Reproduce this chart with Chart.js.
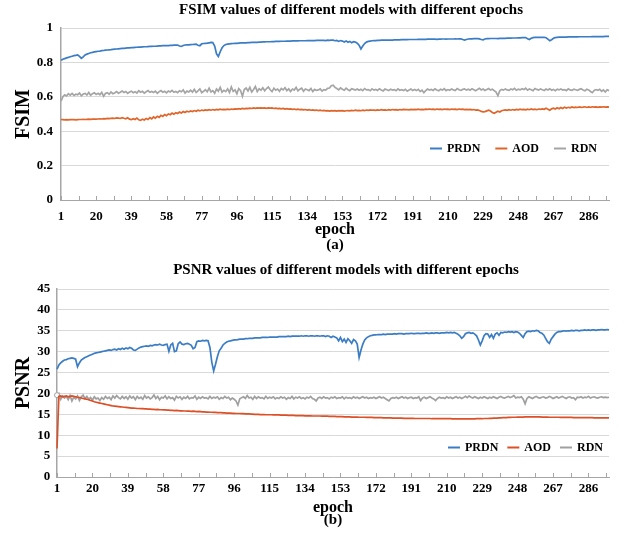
<!DOCTYPE html>
<html>
<head>
<meta charset="utf-8">
<script src="https://cdn.jsdelivr.net/npm/chart.js@4/dist/chart.umd.min.js"></script>
<style>
  html, body { margin: 0; padding: 0; background: #ffffff; }
  .box { position: relative; width: 626px; }
  canvas { display: block; }
</style>
</head>
<body>
<div class="box"><canvas id="fsim" width="626" height="258"></canvas></div>
<div class="box"><canvas id="psnr" width="626" height="277"></canvas></div>
<script>
// ---------- categories ----------
const epochs = Array.from({length: 297}, (_, i) => i + 1);
const tickLabels = [1, 20, 39, 58, 77, 96, 115, 134, 153, 172, 191, 210, 229, 248, 267, 286];
const seriesNames = ['PRDN', 'AOD', 'RDN'];
const fsimTicks = [0, 0.2, 0.4, 0.6, 0.8, 1];
const psnrTicks = [0, 5, 10, 15, 20, 25, 30, 35, 40, 45];

// ---------- FSIM (a) ----------
const fsimPRDN = [
0.812,0.818,0.822,0.826,0.829,0.833,0.836,0.839,0.841,0.843,
0.835,0.824,0.832,0.843,0.848,0.852,0.856,0.858,0.861,0.863,
0.865,0.866,0.868,0.869,0.871,0.872,0.873,0.874,0.876,0.877,
0.878,0.879,0.880,0.881,0.882,0.883,0.884,0.885,0.886,0.886,
0.887,0.888,0.889,0.889,0.890,0.891,0.891,0.892,0.893,0.893,
0.894,0.894,0.895,0.896,0.896,0.897,0.897,0.898,0.898,0.899,
0.899,0.900,0.900,0.901,0.895,0.893,0.898,0.901,0.902,0.902,
0.903,0.904,0.905,0.906,0.900,0.897,0.908,0.910,0.911,0.912,
0.914,0.916,0.915,0.895,0.850,0.835,0.862,0.885,0.898,0.904,
0.906,0.908,0.909,0.910,0.911,0.911,0.912,0.913,0.913,0.914,
0.914,0.915,0.915,0.916,0.916,0.917,0.917,0.918,0.918,0.919,
0.919,0.920,0.920,0.920,0.921,0.921,0.922,0.922,0.922,0.923,
0.923,0.923,0.924,0.924,0.924,0.925,0.925,0.925,0.925,0.926,
0.926,0.926,0.926,0.927,0.927,0.927,0.927,0.927,0.928,0.928,
0.928,0.928,0.928,0.927,0.929,0.928,0.929,0.929,0.926,0.928,
0.922,0.927,0.924,0.919,0.925,0.917,0.922,0.914,0.920,0.918,
0.912,0.900,0.878,0.895,0.910,0.918,0.922,0.924,0.926,0.927,
0.927,0.928,0.928,0.929,0.929,0.929,0.930,0.930,0.930,0.930,
0.931,0.931,0.931,0.931,0.932,0.932,0.932,0.932,0.933,0.933,
0.933,0.933,0.933,0.934,0.934,0.934,0.934,0.934,0.935,0.935,
0.935,0.935,0.935,0.934,0.935,0.935,0.936,0.936,0.935,0.936,
0.936,0.936,0.936,0.937,0.936,0.937,0.937,0.933,0.930,0.933,
0.936,0.937,0.937,0.938,0.938,0.938,0.937,0.933,0.931,0.936,
0.938,0.938,0.939,0.939,0.939,0.939,0.938,0.940,0.940,0.940,
0.940,0.941,0.941,0.941,0.942,0.942,0.942,0.943,0.943,0.944,
0.944,0.944,0.938,0.933,0.940,0.944,0.945,0.945,0.946,0.946,
0.946,0.946,0.943,0.935,0.926,0.932,0.940,0.944,0.946,0.947,
0.947,0.947,0.947,0.947,0.948,0.948,0.948,0.948,0.948,0.948,
0.949,0.949,0.949,0.949,0.949,0.949,0.949,0.950,0.950,0.950,
0.950,0.950,0.950,0.950,0.951,0.951,0.951];

const fsimAOD = [
0.468,0.467,0.466,0.467,0.466,0.467,0.468,0.467,0.466,0.467,
0.468,0.468,0.469,0.468,0.469,0.470,0.469,0.470,0.471,0.470,
0.471,0.472,0.471,0.473,0.472,0.474,0.473,0.475,0.476,0.474,
0.477,0.476,0.474,0.479,0.475,0.472,0.478,0.470,0.467,0.473,
0.468,0.476,0.466,0.463,0.470,0.465,0.474,0.468,0.479,0.472,
0.483,0.476,0.487,0.480,0.492,0.486,0.497,0.490,0.500,0.496,
0.505,0.499,0.508,0.503,0.511,0.506,0.514,0.509,0.516,0.512,
0.518,0.514,0.520,0.516,0.522,0.518,0.523,0.520,0.524,0.521,
0.525,0.522,0.526,0.523,0.527,0.524,0.528,0.525,0.527,0.526,
0.528,0.526,0.529,0.527,0.530,0.528,0.531,0.529,0.532,0.530,
0.533,0.531,0.534,0.532,0.535,0.533,0.535,0.534,0.536,0.534,
0.535,0.533,0.536,0.534,0.535,0.532,0.534,0.531,0.533,0.530,
0.532,0.529,0.531,0.528,0.530,0.527,0.529,0.526,0.528,0.525,
0.527,0.524,0.526,0.523,0.525,0.522,0.524,0.521,0.523,0.520,
0.522,0.519,0.521,0.518,0.520,0.517,0.519,0.518,0.520,0.517,
0.519,0.518,0.520,0.517,0.519,0.520,0.518,0.521,0.519,0.522,
0.520,0.521,0.519,0.522,0.520,0.523,0.521,0.524,0.522,0.523,
0.521,0.524,0.522,0.525,0.523,0.524,0.522,0.525,0.523,0.526,
0.524,0.525,0.523,0.526,0.524,0.527,0.525,0.526,0.524,0.527,
0.525,0.527,0.526,0.528,0.525,0.527,0.526,0.528,0.527,0.529,
0.527,0.528,0.526,0.529,0.527,0.528,0.526,0.529,0.527,0.528,
0.526,0.529,0.527,0.528,0.526,0.529,0.527,0.528,0.526,0.527,
0.525,0.527,0.524,0.526,0.523,0.524,0.520,0.515,0.512,0.514,
0.518,0.522,0.517,0.508,0.504,0.510,0.516,0.512,0.519,0.522,
0.524,0.521,0.525,0.522,0.526,0.523,0.527,0.524,0.528,0.525,
0.527,0.524,0.528,0.525,0.529,0.526,0.528,0.525,0.529,0.527,
0.530,0.527,0.533,0.528,0.522,0.530,0.534,0.529,0.536,0.531,
0.538,0.532,0.540,0.535,0.539,0.536,0.541,0.537,0.540,0.538,
0.541,0.539,0.540,0.542,0.538,0.541,0.539,0.542,0.540,0.541,
0.539,0.541,0.540,0.542,0.540,0.541,0.540];

const fsimRDN = [
0.575,0.600,0.612,0.605,0.618,0.610,0.620,0.608,0.615,0.612,
0.622,0.606,0.616,0.620,0.611,0.625,0.609,0.618,0.623,0.614,
0.620,0.612,0.626,0.603,0.619,0.624,0.615,0.628,0.618,0.622,
0.630,0.621,0.627,0.634,0.625,0.631,0.620,0.628,0.633,0.624,
0.630,0.622,0.635,0.627,0.632,0.621,0.629,0.636,0.626,0.631,
0.625,0.633,0.620,0.630,0.636,0.627,0.632,0.623,0.634,0.628,
0.637,0.626,0.631,0.624,0.635,0.629,0.640,0.622,0.633,0.628,
0.638,0.627,0.643,0.625,0.635,0.646,0.624,0.632,0.641,0.629,
0.650,0.628,0.636,0.621,0.645,0.633,0.655,0.627,0.638,0.630,
0.646,0.625,0.657,0.631,0.640,0.618,0.648,0.636,0.603,0.642,
0.651,0.634,0.655,0.628,0.643,0.660,0.630,0.647,0.638,0.652,
0.635,0.648,0.657,0.641,0.630,0.650,0.638,0.645,0.632,0.648,
0.640,0.653,0.636,0.646,0.631,0.645,0.639,0.655,0.634,0.644,
0.650,0.632,0.645,0.641,0.636,0.648,0.630,0.643,0.637,0.640,
0.646,0.633,0.642,0.639,0.649,0.651,0.665,0.668,0.655,0.648,
0.640,0.652,0.644,0.638,0.650,0.641,0.636,0.647,0.643,0.639,
0.645,0.638,0.644,0.636,0.648,0.640,0.642,0.635,0.646,0.639,
0.643,0.637,0.647,0.640,0.634,0.645,0.641,0.636,0.644,0.639,
0.642,0.635,0.646,0.638,0.641,0.637,0.644,0.633,0.640,0.645,
0.637,0.642,0.636,0.643,0.631,0.638,0.624,0.636,0.645,0.639,
0.643,0.637,0.646,0.640,0.635,0.644,0.639,0.647,0.636,0.642,
0.638,0.645,0.640,0.636,0.648,0.641,0.637,0.643,0.646,0.639,
0.644,0.638,0.647,0.641,0.635,0.643,0.649,0.640,0.645,0.637,
0.642,0.648,0.639,0.644,0.636,0.627,0.606,0.635,0.643,0.639,
0.646,0.640,0.637,0.645,0.641,0.649,0.638,0.644,0.640,0.647,
0.642,0.650,0.638,0.645,0.641,0.636,0.648,0.643,0.639,0.646,
0.641,0.637,0.645,0.640,0.647,0.638,0.643,0.636,0.644,0.640,
0.645,0.639,0.642,0.636,0.646,0.640,0.637,0.644,0.641,0.638,
0.643,0.647,0.639,0.635,0.644,0.640,0.631,0.624,0.637,0.642,
0.638,0.644,0.632,0.640,0.628,0.641,0.636];

// ---------- PSNR (b) ----------
const psnrPRDN = [
25.8,26.8,27.3,27.7,28.0,28.1,28.3,28.4,28.5,28.4,
28.2,26.4,27.3,28.0,28.3,28.6,28.8,29.0,29.2,29.4,
29.6,29.7,29.8,29.9,30.0,30.1,30.2,30.3,30.4,30.3,
30.5,30.6,30.4,30.7,30.5,30.8,30.6,30.9,30.7,31.0,
30.8,30.4,30.3,30.6,30.9,31.1,31.2,31.3,31.4,31.3,
31.5,31.4,31.6,31.7,31.6,31.8,31.6,31.5,31.7,31.8,
30.1,31.6,32.0,30.0,30.2,31.9,32.3,31.8,31.7,31.9,
32.0,31.8,31.5,30.7,31.0,32.4,32.6,32.5,32.7,32.6,
32.7,32.6,31.0,27.5,25.4,27.0,28.8,30.2,30.8,31.6,
32.0,32.3,32.5,32.6,32.7,32.8,32.8,32.9,33.0,33.0,
33.0,33.1,33.1,33.2,33.2,33.2,33.3,33.3,33.3,33.3,
33.4,33.4,33.4,33.4,33.5,33.5,33.5,33.5,33.5,33.6,
33.6,33.6,33.6,33.6,33.7,33.6,33.7,33.7,33.7,33.7,
33.7,33.8,33.7,33.8,33.8,33.7,33.8,33.8,33.7,33.8,
33.8,33.7,33.8,33.8,33.6,33.8,33.7,33.4,33.7,33.5,
33.3,32.6,33.4,32.4,33.0,32.2,33.1,32.6,32.0,32.9,
32.6,31.8,28.6,30.4,31.8,32.8,33.3,33.6,33.8,33.9,
34.0,34.0,34.1,34.1,34.1,34.2,34.1,34.2,34.2,34.2,
34.2,34.3,34.2,34.3,34.3,34.3,34.2,34.3,34.3,34.3,
34.4,34.3,34.3,34.4,34.4,34.3,34.4,34.4,34.5,34.4,
34.4,34.5,34.4,34.5,34.5,34.4,34.5,34.5,34.5,34.6,
34.5,34.6,34.5,34.6,34.4,34.2,33.8,33.2,33.6,34.3,
34.5,34.6,34.4,34.5,34.2,33.8,32.8,31.6,32.6,33.8,
34.3,34.2,33.4,34.1,33.2,34.2,34.5,33.9,34.6,34.5,
34.7,34.6,34.8,34.7,34.8,34.6,34.8,34.7,34.4,33.9,
33.4,34.3,34.8,34.9,34.8,35.0,34.9,35.1,35.0,34.6,
34.4,34.0,33.2,32.4,32.0,33.0,33.6,34.2,34.6,34.8,
34.8,34.9,35.0,34.9,35.0,35.0,35.1,35.0,35.1,35.1,
35.0,35.1,35.1,35.2,35.1,35.2,35.1,35.2,35.2,35.1,
35.2,35.2,35.3,35.2,35.2,35.3,35.2];

const psnrAOD = [
6.8,19.3,19.4,19.2,19.3,19.4,19.2,19.3,19.4,19.3,
19.2,19.1,19.0,18.9,18.8,18.7,18.6,18.5,18.3,18.2,
18.0,17.9,17.8,17.7,17.6,17.5,17.4,17.3,17.2,17.1,
17.0,16.95,16.9,16.85,16.8,16.75,16.7,16.65,16.6,16.55,
16.5,16.5,16.45,16.4,16.4,16.35,16.35,16.3,16.3,16.25,
16.25,16.2,16.2,16.15,16.2,16.1,16.1,16.05,16.05,16.0,
16.0,15.95,15.95,15.9,15.95,15.9,15.85,15.85,15.8,15.8,
15.75,15.75,15.7,15.75,15.7,15.65,15.7,15.65,15.6,15.6,
15.55,15.55,15.5,15.5,15.45,15.45,15.4,15.4,15.4,15.35,
15.35,15.3,15.3,15.3,15.25,15.25,15.2,15.2,15.2,15.15,
15.15,15.1,15.1,15.1,15.05,15.05,15.0,15.0,15.0,14.95,
14.95,14.95,14.9,14.9,14.9,14.9,14.85,14.85,14.85,14.85,
14.8,14.8,14.8,14.8,14.75,14.75,14.75,14.75,14.7,14.7,
14.7,14.7,14.7,14.65,14.65,14.65,14.65,14.6,14.6,14.6,
14.6,14.6,14.55,14.55,14.55,14.55,14.5,14.5,14.5,14.5,
14.45,14.45,14.45,14.45,14.4,14.4,14.4,14.4,14.35,14.35,
14.35,14.35,14.3,14.3,14.3,14.3,14.25,14.25,14.25,14.25,
14.2,14.2,14.2,14.2,14.2,14.15,14.15,14.15,14.15,14.15,
14.1,14.1,14.1,14.1,14.1,14.1,14.05,14.05,14.05,14.05,
14.05,14.05,14.0,14.0,14.0,14.0,14.0,14.0,14.0,14.0,
14.0,13.95,13.95,13.95,13.95,13.95,13.95,13.95,13.95,13.95,
13.95,13.95,13.9,13.9,13.9,13.9,13.9,13.9,13.9,13.9,
13.9,13.9,13.9,13.9,13.9,13.95,13.95,13.95,13.95,14.0,
14.0,14.0,14.05,14.05,14.1,14.1,14.1,14.15,14.15,14.2,
14.2,14.2,14.25,14.25,14.3,14.3,14.3,14.35,14.35,14.35,
14.35,14.4,14.4,14.4,14.4,14.4,14.4,14.4,14.4,14.4,
14.35,14.35,14.35,14.35,14.3,14.3,14.3,14.3,14.3,14.3,
14.25,14.25,14.25,14.25,14.25,14.25,14.25,14.2,14.2,14.2,
14.2,14.2,14.2,14.2,14.2,14.2,14.2,14.2,14.15,14.15,
14.15,14.15,14.15,14.15,14.15,14.15,14.15];

const psnrRDN = [
19.6,20.0,18.6,19.4,18.9,19.3,18.5,19.5,18.2,19.1,
18.7,19.4,18.3,19.2,19.6,18.8,19.3,18.6,19.0,18.4,
19.2,18.7,18.9,18.3,19.0,18.6,19.3,18.8,19.1,18.5,
19.4,18.9,19.5,19.0,18.7,19.3,18.8,19.2,18.6,19.4,
18.9,19.2,18.5,19.3,18.8,19.1,18.6,19.5,18.9,19.2,
18.7,19.0,19.6,18.8,19.3,18.5,19.1,18.9,19.4,18.7,
19.2,18.8,19.0,18.4,19.3,18.9,19.2,18.6,19.1,18.8,
19.3,18.7,19.0,18.9,19.4,18.6,19.1,18.8,19.2,18.9,
19.0,18.7,19.3,18.8,19.1,18.9,19.2,18.6,19.0,18.8,
19.3,18.9,19.1,18.5,18.9,18.6,18.2,17.2,18.7,19.0,
19.2,18.8,19.5,18.9,19.1,18.6,19.3,18.8,19.2,18.9,
19.0,18.7,19.3,18.8,19.1,18.9,19.2,18.7,19.0,18.8,
19.2,18.9,19.1,18.6,19.0,18.8,19.3,18.7,19.1,18.9,
19.2,18.8,19.0,18.7,19.1,18.9,19.3,18.8,18.6,18.2,
18.9,19.1,18.8,19.2,18.9,19.0,18.7,19.1,18.9,19.2,
18.8,19.0,18.9,19.2,18.7,19.1,18.9,19.0,18.8,19.2,
18.9,19.1,18.8,19.0,19.2,18.9,19.1,18.8,19.0,18.9,
19.1,18.8,19.0,19.2,18.9,19.1,18.8,18.5,18.2,18.8,
19.0,18.9,19.1,18.8,19.0,19.2,18.9,19.1,18.8,19.0,
19.1,18.8,19.0,18.9,19.2,18.3,18.9,19.1,18.8,19.0,
19.2,18.9,18.7,18.3,18.8,19.1,18.9,19.0,18.8,19.2,
18.9,19.1,18.8,19.0,19.2,18.9,19.1,18.8,19.0,19.3,
19.0,19.4,19.1,18.9,19.2,19.0,18.8,19.1,18.9,19.2,
19.0,18.8,19.1,18.9,19.2,19.0,18.8,19.1,19.3,19.0,
18.9,19.1,19.3,19.0,19.2,19.5,18.9,19.1,19.0,19.2,
18.6,17.5,18.8,19.2,19.0,18.8,19.1,19.3,19.0,18.9,
19.1,19.2,18.9,19.0,19.3,19.1,18.8,19.0,19.2,18.9,
19.1,19.3,19.0,18.8,19.1,19.2,18.9,19.0,18.5,19.1,
19.0,19.2,18.9,19.1,19.0,19.3,18.9,19.1,19.2,19.0,
18.9,19.1,19.2,19.0,19.1,19.0,19.1];

// ---------- styling ----------
const FONT = '"Liberation Serif", "Times New Roman", serif';
const AXIS_GREY = '#A6A6A6';
const GRID_GREY = '#D9D9D9';

const insideLegend = {
  id: 'insideLegend',
  afterDatasetsDraw(chart, args, opts) {
    const {ctx, chartArea, scales} = chart;
    const y = Math.round(scales.y.getPixelForValue(opts.atValue)) + 0.5;
    let x = chartArea.right - opts.fromRight;
    ctx.save();
    ctx.font = 'bold 12px ' + FONT;
    ctx.textBaseline = 'middle';
    ctx.textAlign = 'left';
    chart.data.datasets.forEach(ds => {
      ctx.strokeStyle = ds.borderColor;
      ctx.lineWidth = 2;
      ctx.beginPath();
      ctx.moveTo(x, y);
      ctx.lineTo(x + 12, y);
      ctx.stroke();
      x += 17;
      ctx.fillStyle = '#000';
      ctx.fillText(ds.label, x, y + 0.5);
      x += ctx.measureText(ds.label).width + opts.gap;
    });
    ctx.restore();
  }
};

const minorTicks = {
  id: 'minorTicks',
  afterDraw(chart, args, opts) {
    const xs = chart.scales.x;
    const {ctx} = chart;
    const y0 = chart.chartArea.bottom;
    ctx.save();
    ctx.strokeStyle = AXIS_GREY;
    ctx.lineWidth = 1;
    for (let k = 0; k * opts.every <= xs.max; k++) {
      const px = Math.round(xs.getPixelForValue(k * opts.every)) + 0.5;
      ctx.beginPath();
      ctx.moveTo(px, y0);
      ctx.lineTo(px, y0 - 4);
      ctx.stroke();
    }
    ctx.restore();
  }
};

// shift the chart title horizontally (reference title sits right of centre)
const titleShift = {
  id: 'titleShift',
  afterLayout(chart, args, opts) {
    const tb = chart.titleBlock;
    if (tb && opts.dx) { tb.left += opts.dx; tb.right += opts.dx; }
  }
};

function makeChart(id, cfg) {
  const ds = (label, data, color, extra) => Object.assign({
    label, data, borderColor: color, backgroundColor: color,
    borderWidth: 1.7, pointRadius: 0, tension: 0, fill: false
  }, extra || {});
  return new Chart(document.getElementById(id), {
    type: 'line',
    data: {
      labels: epochs,
      datasets: [
        ds(seriesNames[0], cfg.prdn, cfg.colors[0]),
        ds(seriesNames[1], cfg.aod, cfg.colors[1]),
        ds(seriesNames[2], cfg.rdn, cfg.colors[2], cfg.rdnExtra)
      ]
    },
    options: {
      responsive: false,
      animation: false,
      devicePixelRatio: 1,
      events: [],
      layout: { padding: { left: 4, right: 17, top: 0, bottom: 0 } },
      plugins: {
        legend: { display: false },
        tooltip: { enabled: false },
        title: {
          display: true, text: cfg.title, color: '#000', fullSize: false,
          font: { family: FONT, size: 15, weight: 'bold', lineHeight: 1.2 },
          padding: cfg.titlePad
        },
        subtitle: {
          display: true, position: 'bottom', text: cfg.sub, color: '#000', fullSize: false,
          font: { family: FONT, size: cfg.subSize, weight: 'bold', lineHeight: 1 },
          padding: cfg.subPad
        },
        insideLegend: cfg.legend,
        minorTicks: { every: 9.5 },
        titleShift: { dx: cfg.titleDx }
      },
      scales: {
        x: {
          type: 'category',
          grid: { display: false, drawTicks: false },
          border: { display: true, color: AXIS_GREY, width: 1 },
          ticks: {
            autoSkip: false, maxRotation: 0, minRotation: 0,
            padding: cfg.xTickPad, color: '#000',
            font: { family: FONT, size: 13, weight: 'bold', lineHeight: 1 },
            callback: function (value) {
              const lab = this.getLabelForValue(value);
              return tickLabels.includes(lab) ? String(lab) : '';
            }
          },
          title: {
            display: true, text: 'epoch', color: '#000',
            font: { family: FONT, size: 16, weight: 'bold', lineHeight: 1 },
            padding: cfg.xTitlePad
          }
        },
        y: {
          min: cfg.yTicks[0], max: cfg.yTicks[cfg.yTicks.length - 1],
          afterBuildTicks: (scale) => { scale.ticks = cfg.yTicks.map(v => ({ value: v })); },
          grid: { color: GRID_GREY, lineWidth: 1, drawTicks: false },
          border: { display: true, color: AXIS_GREY, width: 1.5 },
          ticks: {
            padding: cfg.yTickPad, color: '#000',
            font: { family: FONT, size: 13, weight: 'bold', lineHeight: 1 },
            callback: (v) => String(v)
          },
          title: {
            display: true, text: cfg.yTitle, color: '#000',
            font: { family: FONT, size: 20, weight: 'bold', lineHeight: 1 },
            padding: cfg.yTitlePad
          }
        }
      }
    },
    plugins: [insideLegend, minorTicks, titleShift]
  });
}

makeChart('fsim', {
  title: 'FSIM values of different models with different epochs',
  sub: '(a)', subSize: 15, yTitle: 'FSIM', yTicks: fsimTicks,
  prdn: fsimPRDN, aod: fsimAOD, rdn: fsimRDN,
  colors: ['#3B7DC4', '#E0652B', '#A5A5A5'],
  titleDx: 16,
  titlePad: { top: 1, bottom: 9 },
  subPad: { top: 0, bottom: 5.5 },
  xTickPad: 10.5, xTitlePad: { top: -12, bottom: -0.5 },
  yTickPad: 8, yTitlePad: { top: 10, bottom: -5.25 },
  legend: { atValue: 0.302, fromRight: 179, gap: 15 }
});

makeChart('psnr', {
  title: 'PSNR values of different models with different epochs',
  sub: '(b)', subSize: 15, yTitle: 'PSNR', yTicks: psnrTicks,
  prdn: psnrPRDN, aod: psnrAOD, rdn: psnrRDN,
  colors: ['#3B7DC4', '#DD4F27', '#A0A0A0'],
  rdnExtra: {
    pointRadius: (c) => c.dataIndex === 0 ? 2.5 : 0,
    pointBackgroundColor: '#ffffff', pointBorderColor: '#A0A0A0', pointBorderWidth: 1
  },
  titleDx: 13,
  titlePad: { top: 3, bottom: 10 },
  subPad: { top: 0, bottom: 7 },
  xTickPad: 5.5, xTitlePad: { top: -1.5, bottom: -2.5 },
  yTickPad: 6.7, yTitlePad: { top: 10, bottom: -3.4 },
  legend: { atValue: 7.2, fromRight: 161, gap: 9 }
});
</script>
</body>
</html>
